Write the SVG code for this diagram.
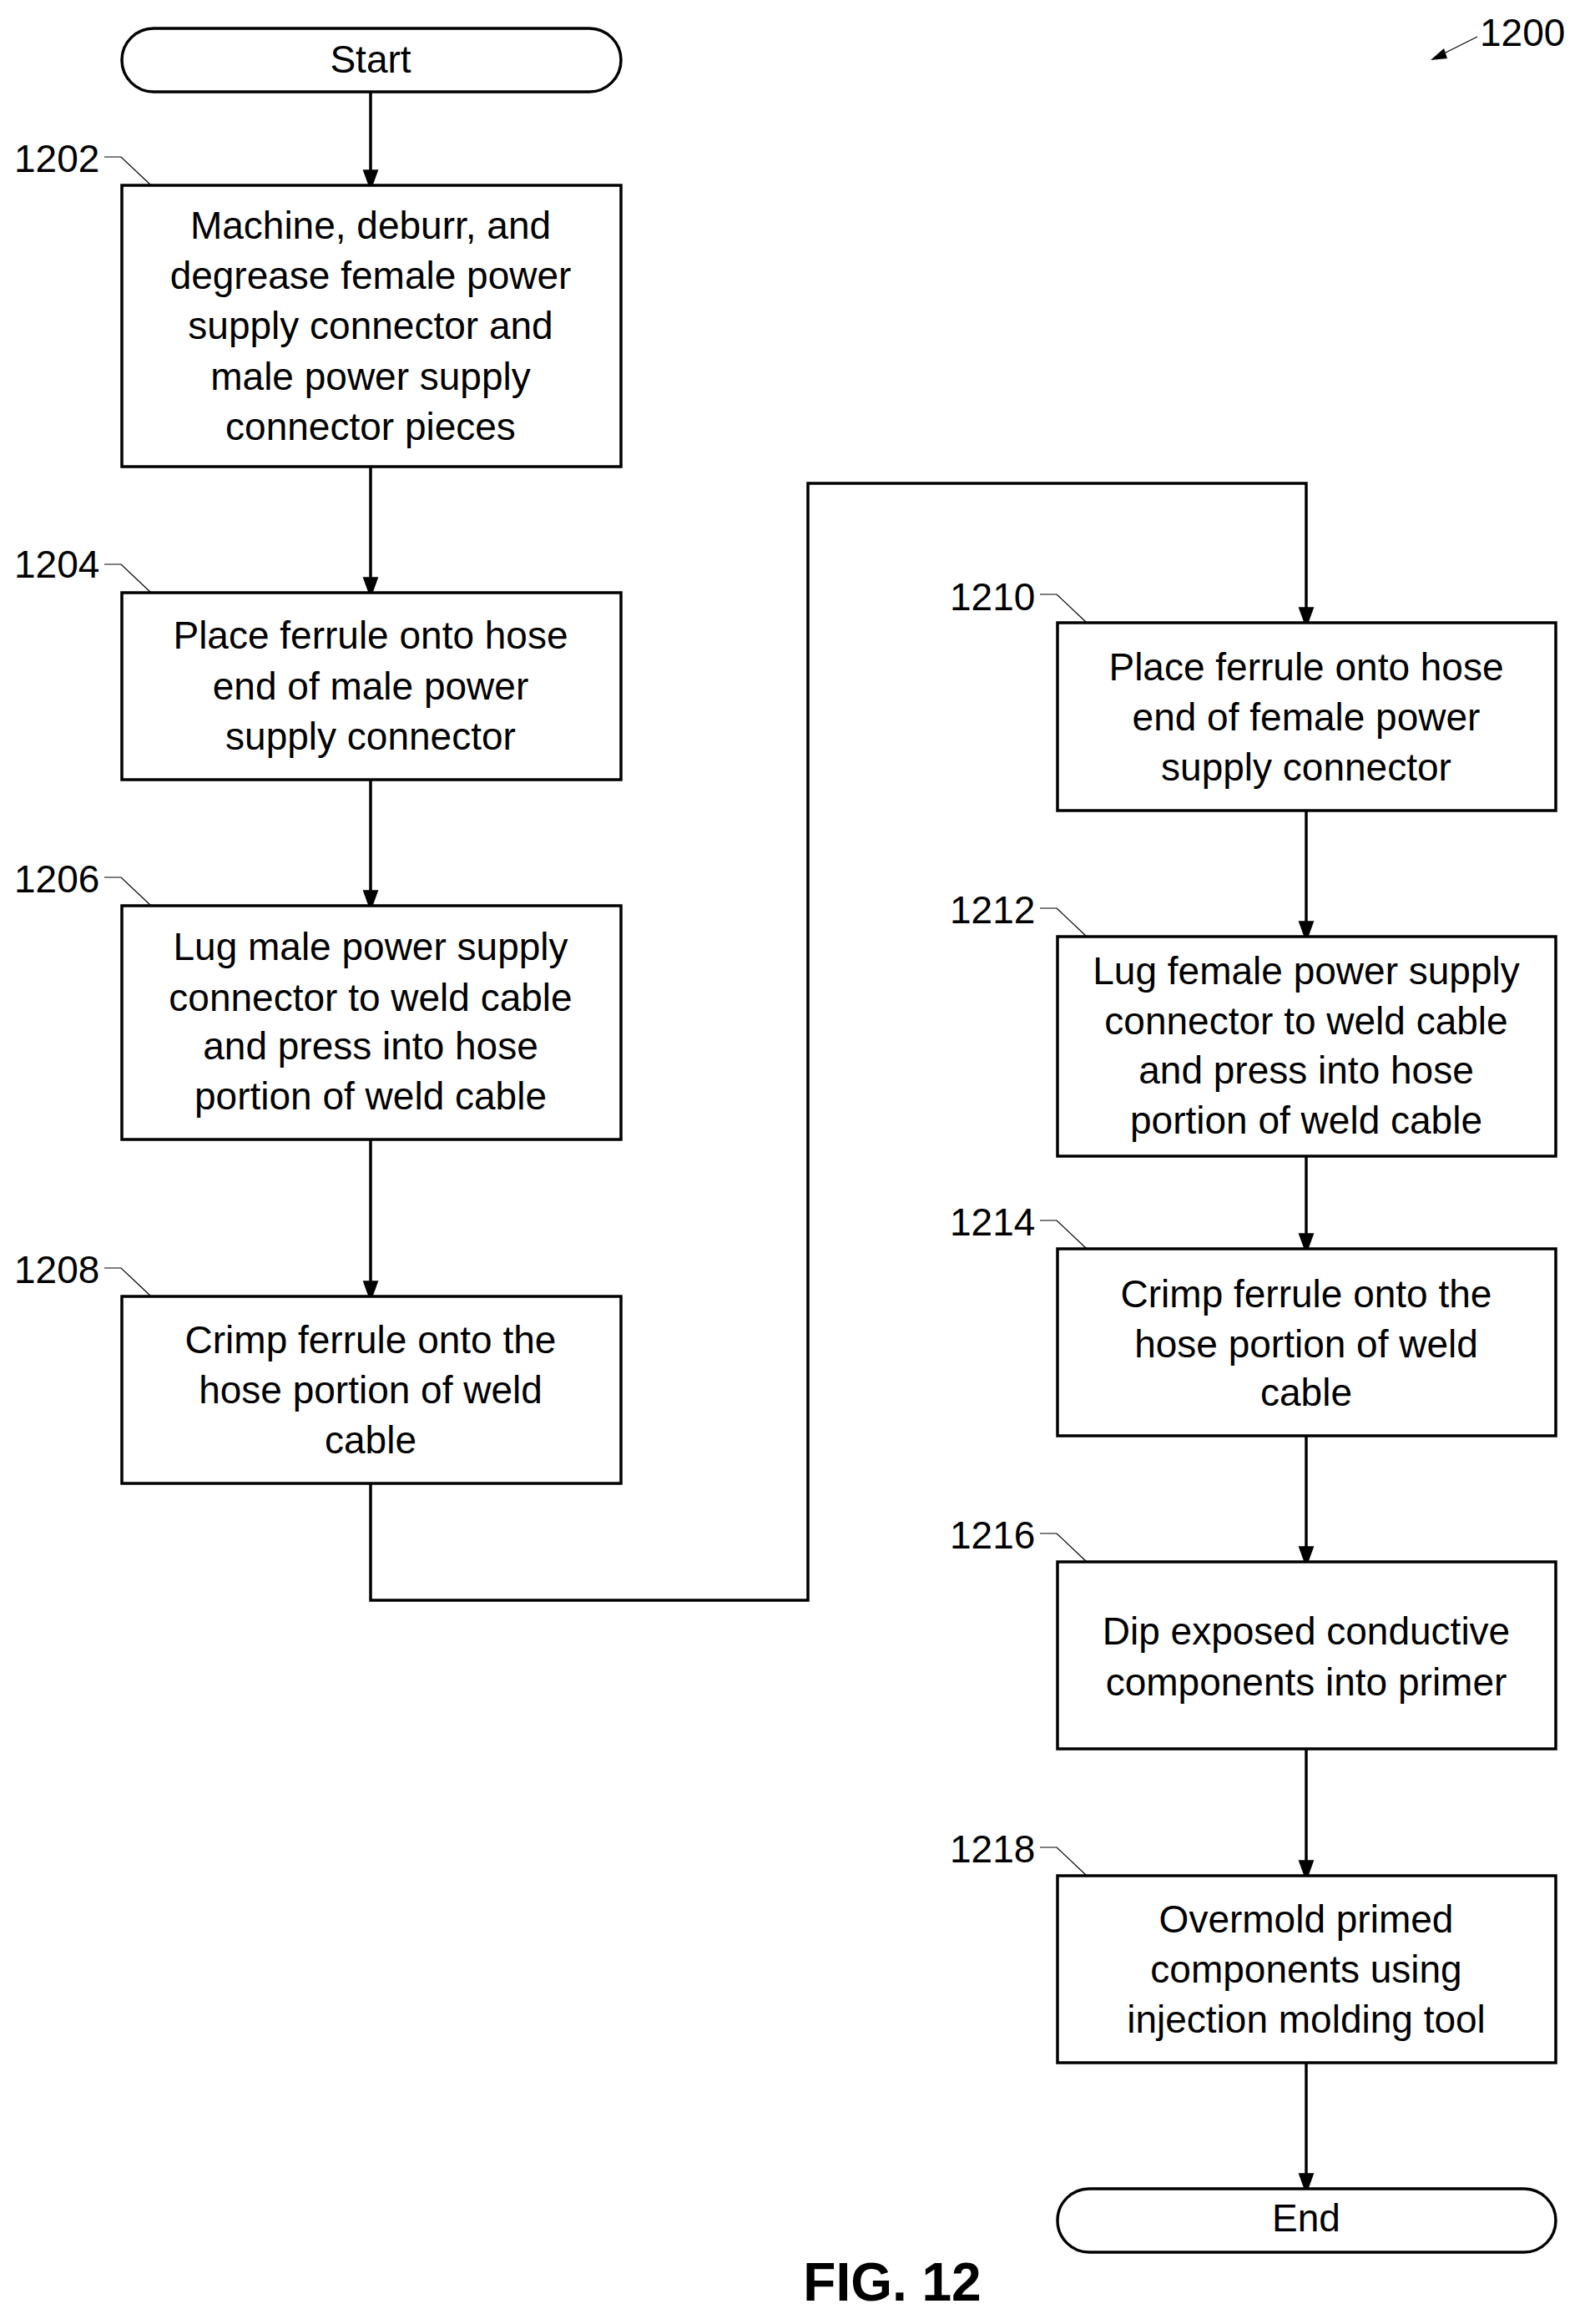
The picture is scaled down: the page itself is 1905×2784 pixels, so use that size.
<svg xmlns="http://www.w3.org/2000/svg" width="1905" height="2784" viewBox="0 0 1905 2784">
<style>
.b{fill:#fff;stroke:#000;stroke-width:3.5}
.t{font-family:"Liberation Sans",Arial,sans-serif;font-size:46px;text-anchor:middle;fill:#000}
.l{font-family:"Liberation Sans",Arial,sans-serif;font-size:46px;fill:#000}
.ld{fill:none;stroke:#000;stroke-width:1.2}
.c{fill:none;stroke:#000;stroke-width:3.5}
</style>
<defs>
<marker id="a" markerUnits="userSpaceOnUse" markerWidth="26" markerHeight="36" refX="26" refY="13" orient="auto" viewBox="0 0 36 26">
<path d="M0,0 L36,13 L0,26 Z" fill="#000"/>
</marker>
</defs>
<rect width="1905" height="2784" fill="#fff"/>
<g id="connectors">
<line class="c" x1="444" y1="110" x2="444" y2="222" marker-end="url(#a)"/>
<line class="c" x1="444" y1="559" x2="444" y2="710" marker-end="url(#a)"/>
<line class="c" x1="444" y1="934" x2="444" y2="1085" marker-end="url(#a)"/>
<line class="c" x1="444" y1="1365" x2="444" y2="1553" marker-end="url(#a)"/>
<polyline class="c" points="444,1777 444,1917 968,1917 968,579 1565,579 1565,746" marker-end="url(#a)"/>
<line class="c" x1="1565" y1="971" x2="1565" y2="1122" marker-end="url(#a)"/>
<line class="c" x1="1565" y1="1385" x2="1565" y2="1496" marker-end="url(#a)"/>
<line class="c" x1="1565" y1="1720" x2="1565" y2="1871" marker-end="url(#a)"/>
<line class="c" x1="1565" y1="2095" x2="1565" y2="2247" marker-end="url(#a)"/>
<line class="c" x1="1565" y1="2471" x2="1565" y2="2622" marker-end="url(#a)"/>
</g>
<g id="start"><rect class="b" x="146" y="34" width="598" height="76" rx="38"/><text class="t" x="444" y="87">Start</text></g>
<g id="n1202"><rect class="b" x="146" y="222" width="598" height="337"/>
<text class="t" x="444" y="286">Machine, deburr, and</text><text class="t" x="444" y="346">degrease female power</text><text class="t" x="444" y="406">supply connector and</text><text class="t" x="444" y="467">male power supply</text><text class="t" x="444" y="527">connector pieces</text>
<text class="l" x="17" y="206">1202</text><polyline class="ld" points="125,188 145,188 181,222"/></g>
<g id="n1204"><rect class="b" x="146" y="710" width="598" height="224"/>
<text class="t" x="444" y="777">Place ferrule onto hose</text><text class="t" x="444" y="838">end of male power</text><text class="t" x="444" y="898">supply connector</text>
<text class="l" x="17" y="692">1204</text><polyline class="ld" points="125,676 145,676 181,710"/></g>
<g id="n1206"><rect class="b" x="146" y="1085" width="598" height="280"/>
<text class="t" x="444" y="1150">Lug male power supply</text><text class="t" x="444" y="1211">connector to weld cable</text><text class="t" x="444" y="1269">and press into hose</text><text class="t" x="444" y="1329">portion of weld cable</text>
<text class="l" x="17" y="1069">1206</text><polyline class="ld" points="125,1051 145,1051 181,1085"/></g>
<g id="n1208"><rect class="b" x="146" y="1553" width="598" height="224"/>
<text class="t" x="444" y="1621">Crimp ferrule onto the</text><text class="t" x="444" y="1681">hose portion of weld</text><text class="t" x="444" y="1741">cable</text>
<text class="l" x="17" y="1537">1208</text><polyline class="ld" points="125,1519 145,1519 181,1553"/></g>
<g id="n1210"><rect class="b" x="1267" y="746" width="597" height="225"/>
<text class="t" x="1565" y="815">Place ferrule onto hose</text><text class="t" x="1565" y="875">end of female power</text><text class="t" x="1565" y="935">supply connector</text>
<text class="l" x="1138" y="731">1210</text><polyline class="ld" points="1246,712 1266,712 1302,746"/></g>
<g id="n1212"><rect class="b" x="1267" y="1122" width="597" height="263"/>
<text class="t" x="1565" y="1179">Lug female power supply</text><text class="t" x="1565" y="1239">connector to weld cable</text><text class="t" x="1565" y="1298">and press into hose</text><text class="t" x="1565" y="1358">portion of weld cable</text>
<text class="l" x="1138" y="1106">1212</text><polyline class="ld" points="1246,1088 1266,1088 1302,1122"/></g>
<g id="n1214"><rect class="b" x="1267" y="1496" width="597" height="224"/>
<text class="t" x="1565" y="1566">Crimp ferrule onto the</text><text class="t" x="1565" y="1626">hose portion of weld</text><text class="t" x="1565" y="1684">cable</text>
<text class="l" x="1138" y="1480">1214</text><polyline class="ld" points="1246,1462 1266,1462 1302,1496"/></g>
<g id="n1216"><rect class="b" x="1267" y="1871" width="597" height="224"/>
<text class="t" x="1565" y="1970">Dip exposed conductive</text><text class="t" x="1565" y="2031">components into primer</text>
<text class="l" x="1138" y="1855">1216</text><polyline class="ld" points="1246,1837 1266,1837 1302,1871"/></g>
<g id="n1218"><rect class="b" x="1267" y="2247" width="597" height="224"/>
<text class="t" x="1565" y="2315">Overmold primed</text><text class="t" x="1565" y="2375">components using</text><text class="t" x="1565" y="2435">injection molding tool</text>
<text class="l" x="1138" y="2231">1218</text><polyline class="ld" points="1246,2213 1266,2213 1302,2247"/></g>
<g id="end"><rect class="b" x="1267" y="2622" width="597" height="76" rx="38"/><text class="t" x="1565" y="2673">End</text></g>
<g id="ref1200"><text class="l" x="1773" y="55">1200</text>
<line class="ld" x1="1770" y1="44" x2="1722" y2="68" stroke-width="2"/><path d="M1714,72 L1730,58 L1734,70 Z" fill="#000"/></g>
<text x="1069" y="2756" style="font-family:'Liberation Sans',Arial,sans-serif;font-size:64px;font-weight:bold;text-anchor:middle">FIG. 12</text>
</svg>
